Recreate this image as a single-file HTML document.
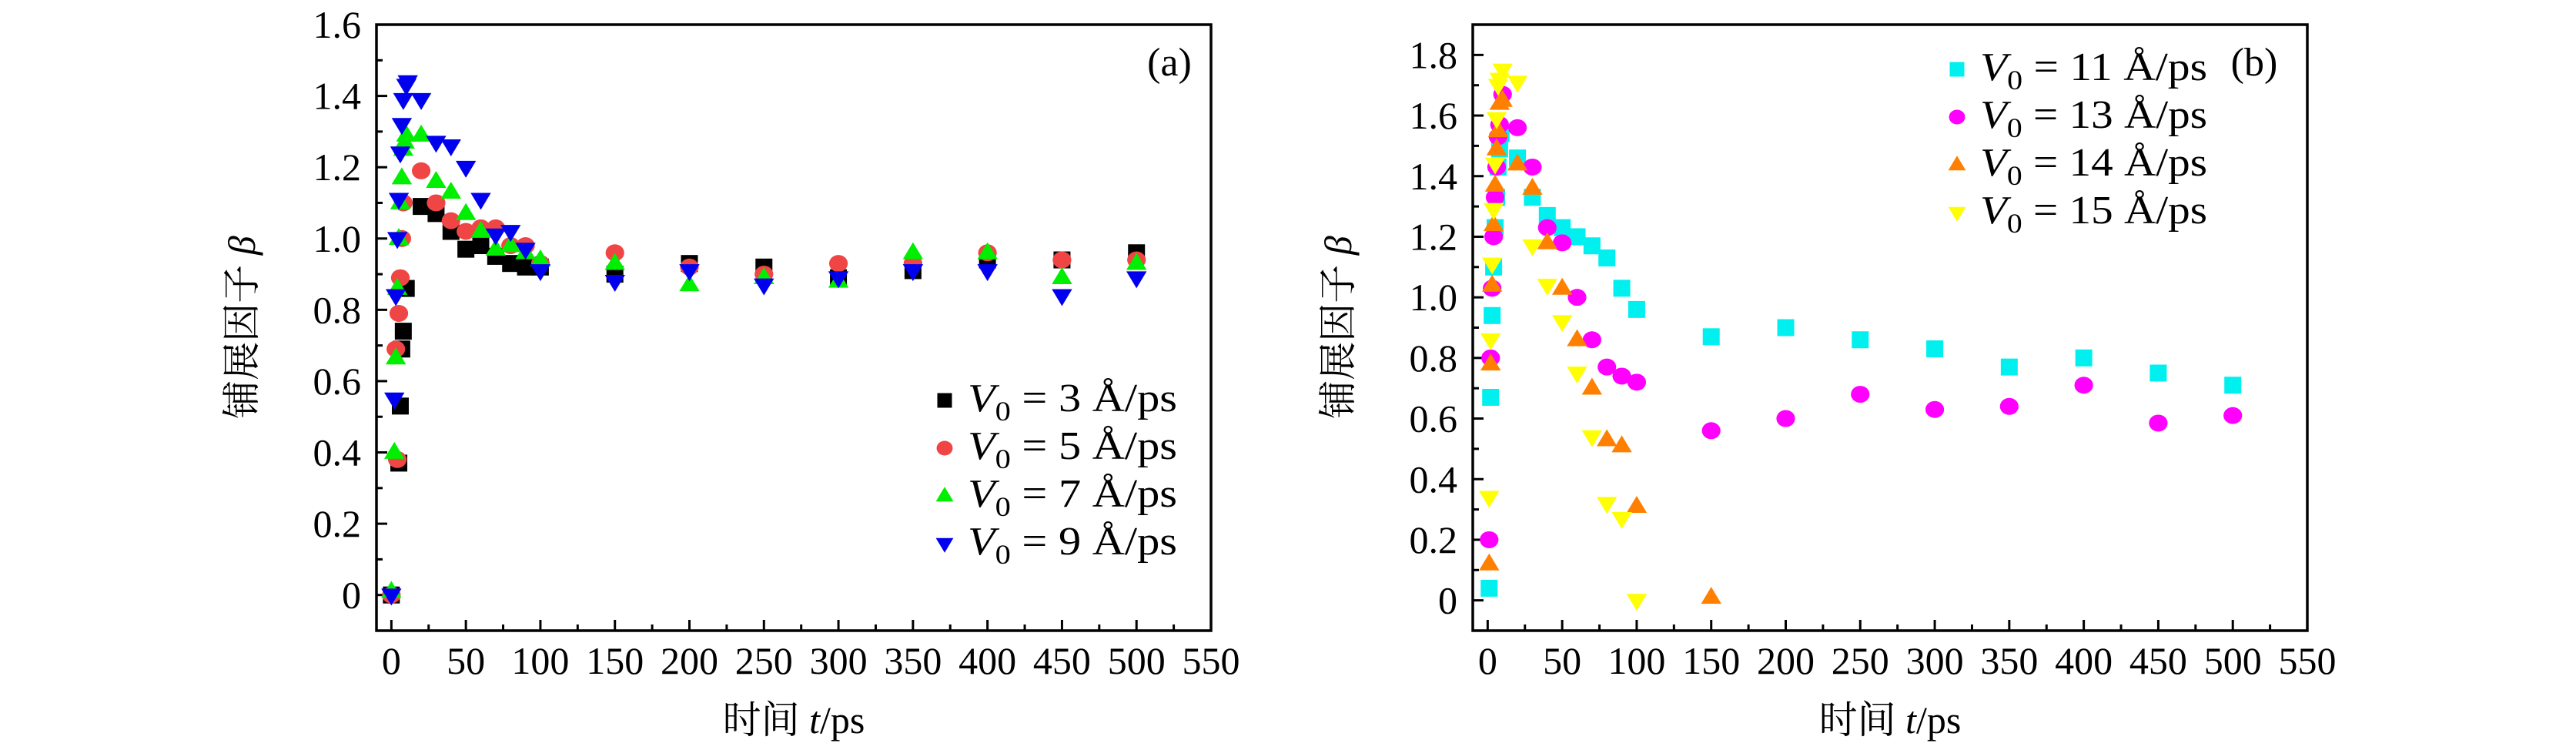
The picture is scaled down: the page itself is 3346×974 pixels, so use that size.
<!DOCTYPE html>
<html><head><meta charset="utf-8"><style>
html,body{margin:0;padding:0;background:#fff;}
svg{display:block;}
text{font-family:"Liberation Serif","Noto Serif CJK SC",serif;fill:#000;}
</style></head><body>
<svg id="chart" width="3346" height="974" viewBox="0 0 3346 974" xmlns="http://www.w3.org/2000/svg"></svg>
<script>
// ---------- data, panel (a) ----------
const tA_v3 = [0,5,6,7,8,10,20,30,40,50,60,70,80,90,100,150,200,250,300,350,400,450,500];
const bA_v3 = [0,0.37,0.53,0.69,0.74,0.86,1.09,1.07,1.02,0.97,0.98,0.95,0.93,0.92,0.92,0.90,0.93,0.92,0.89,0.91,0.94,0.94,0.96];
const tA_v5 = [0,4,3,5,6,7,8,20,30,40,50,60,70,80,90,100,150,200,250,300,350,400,450,500];
const bA_v5 = [0,0.38,0.69,0.79,0.89,1.0,1.1,1.19,1.1,1.05,1.02,1.03,1.03,0.98,0.98,0.93,0.96,0.92,0.90,0.93,0.93,0.96,0.94,0.94];
const tA_v7 = [0,2,3,4,5,6,7,8,9,10,20,30,40,50,60,70,80,90,100,150,200,250,300,350,400,450,500];
const bA_v7 = [0.01,0.40,0.665,0.86,1.0,1.1,1.17,1.25,1.27,1.29,1.29,1.16,1.13,1.07,1.02,0.97,0.98,0.96,0.94,0.93,0.87,0.89,0.88,0.96,0.96,0.89,0.93];
const tA_v9 = [0,2,3,4,5,6,7,8,10,11,20,30,40,50,60,70,80,90,100,150,200,250,300,350,400,450,500];
const bA_v9 = [0,0.55,0.84,1.0,1.11,1.24,1.32,1.39,1.43,1.44,1.39,1.27,1.26,1.2,1.11,1.01,1.02,0.97,0.91,0.88,0.91,0.87,0.89,0.91,0.91,0.84,0.89];
// ---------- data, panel (b) ----------
const tB_v11 = [1,2,3,4,5,6,7,8,9,20,30,40,50,60,70,80,90,100,150,200,250,300,350,400,450,500];
const bB_v11 = [0.04,0.67,0.94,1.10,1.23,1.33,1.43,1.49,1.54,1.46,1.33,1.27,1.23,1.2,1.17,1.13,1.03,0.96,0.87,0.90,0.86,0.83,0.77,0.80,0.75,0.71];
const tB_v13 = [1,2,3,4,5,6,7,8,10,20,30,40,50,60,70,80,90,100,150,200,250,300,350,400,450,500];
const bB_v13 = [0.2,0.80,1.03,1.2,1.33,1.43,1.53,1.57,1.67,1.56,1.43,1.23,1.18,1.0,0.86,0.77,0.74,0.72,0.56,0.60,0.68,0.63,0.64,0.71,0.585,0.61];
const tB_v14 = [1,2,3,4,5,6,7,8,10,20,30,40,50,60,70,80,90,100,150];
const bB_v14 = [0.12,0.78,1.04,1.24,1.37,1.49,1.55,1.64,1.65,1.44,1.36,1.18,1.03,0.86,0.70,0.53,0.51,0.31,0.01];
const tB_v15 = [1,2,3,4,5,6,7,8,10,20,30,40,50,60,70,80,90,100];
const bB_v15 = [0.34,0.86,1.11,1.29,1.44,1.59,1.70,1.72,1.75,1.71,1.17,1.04,0.92,0.75,0.54,0.32,0.27,0];
const yTicksA = ["0","0.2","0.4","0.6","0.8","1.0","1.2","1.4","1.6"];
const yTicksB = ["0","0.2","0.4","0.6","0.8","1.0","1.2","1.4","1.6","1.8"];
const xTicks = ["0","50","100","150","200","250","300","350","400","450","500","550"];

const NS="http://www.w3.org/2000/svg";
const svg=document.getElementById('chart');
function mk(tag,attrs,parent){const e=document.createElementNS(NS,tag);for(const k in attrs)e.setAttribute(k,attrs[k]);(parent||svg).appendChild(e);return e;}

function marker(g,shape,cx,cy,s,color){
  let e;
  if(shape==='square'){e=mk('rect',{x:cx-s/2,y:cy-s/2,width:s,height:s,fill:color},g);}
  else if(shape==='circle'){e=mk('ellipse',{cx:cx,cy:cy,rx:s*0.55,ry:s*0.5,fill:color},g);}
  else if(shape==='up'){const h=s*1.0,w=s*1.2;e=mk('polygon',{points:`${cx},${cy-h*0.62} ${cx-w/2},${cy+h*0.38} ${cx+w/2},${cy+h*0.38}`,fill:color},g);}
  else {const h=s*1.0,w=s*1.2;e=mk('polygon',{points:`${cx},${cy+h*0.62} ${cx-w/2},${cy-h*0.38} ${cx+w/2},${cy-h*0.38}`,fill:color},g);}
  return e;
}

function panel(cfg){
  const L=cfg.left,R=L+1084,T=32,B=819;
  const xs=v=>L+(v+10)/560*(R-L);
  const ys=v=>B-(v-cfg.ymin)/(cfg.ymax-cfg.ymin)*(B-T);
  const g=mk('g',{});
  
  
  const frame=mk('rect',{x:L,y:T,width:R-L,height:B-T,fill:'none',stroke:'#000','stroke-width':3.5},g);
  
  
  // x ticks
  for(let i=0;i<xTicks.length;i++){
    const v=i*50,x=xs(v);
    const t=mk('line',{x1:x,y1:B,x2:x,y2:B-14,stroke:'#000','stroke-width':3},g);
    
    
    if(v+25<=550){const m=mk('line',{x1:xs(v+25),y1:B,x2:xs(v+25),y2:B-8,stroke:'#000','stroke-width':3},g);
      
      }
    const lb=mk('text',{x:x,y:875,'font-size':50,'text-anchor':'middle'},g);
    lb.textContent=xTicks[i];
    
    
  }
  // y ticks
  const yt=cfg.yTicks;
  for(let i=0;i<yt.length;i++){
    const v=i*0.2,y=ys(v);
    const t=mk('line',{x1:L,y1:y,x2:L+14,y2:y,stroke:'#000','stroke-width':3},g);
    
    
    const mv=v+0.1;
    if(mv<cfg.ymax){const m=mk('line',{x1:L,y1:ys(mv),x2:L+8,y2:ys(mv),stroke:'#000','stroke-width':3},g);
      
      }
    const lb=mk('text',{x:L-20,y:y+17,'font-size':50,'text-anchor':'end'},g);
    lb.textContent=yt[i];
    
    
  }
  // series
  cfg.series.forEach(s=>{
    const sg=mk('g',{},g);
    
    
    for(let i=0;i<s.t.length;i++){
      const m=marker(sg,s.shape,xs(s.t[i]),ys(s.b[i]),22,s.color);
      
      
    }
  });
  // legend
  const lg=mk('g',{},g);
  
  
  cfg.series.forEach((s,i)=>{
    const cy=cfg.legY+i*62;
    const e=marker(lg,s.shape,cfg.legX,cy,19,s.color);
    
    
    const tx=mk('text',{x:cfg.legX+30,y:cy+14,'font-size':52},lg);
    
    
    tx.setAttribute('textLength',cfg.legW);
    tx.setAttribute('lengthAdjust','spacingAndGlyphs');
    tx.innerHTML='<tspan font-style="italic">V</tspan><tspan font-size="36" dy="12">0</tspan><tspan dy="-12"> = '+s.v+' Å/ps</tspan>';
  });
  const pl=mk('text',{x:cfg.lblX,y:98,'font-size':52,'text-anchor':'middle'},g);
  pl.textContent=cfg.label;
  
  
  // axis titles
  const xt=mk('text',{x:(L+R)/2,y:952,'font-size':50,'text-anchor':'middle'},g);
  xt.innerHTML='时间 <tspan font-style="italic">t</tspan>/ps';
  
  
  const yx=cfg.left-158;
  const yT=mk('text',{x:yx,y:425,'font-size':50,'text-anchor':'middle',transform:`rotate(-90 ${yx} 425)`},g);
  yT.innerHTML='铺展因子 <tspan font-style="italic">β</tspan>';
  
  
}

panel({name:'panel-a',left:489,ymin:-0.1,ymax:1.6,yTicks:yTicksA,legX:1227,legY:520,legW:272,lblX:1519,label:'(a)',
  series:[
    {name:'series-v0-3',t:tA_v3,b:bA_v3,shape:'square',color:'#000000',v:'3'},
    {name:'series-v0-5',t:tA_v5,b:bA_v5,shape:'circle',color:'#ef4545',v:'5'},
    {name:'series-v0-7',t:tA_v7,b:bA_v7,shape:'up',color:'#00ee00',v:'7'},
    {name:'series-v0-9',t:tA_v9,b:bA_v9,shape:'down',color:'#0000ee',v:'9'}]});
panel({name:'panel-b',left:1913,ymin:-0.1,ymax:1.9,yTicks:yTicksB,legX:2542,legY:90,legW:295,lblX:2928,label:'(b)',
  series:[
    {name:'series-v0-11',t:tB_v11,b:bB_v11,shape:'square',color:'#00f0f0',v:'11'},
    {name:'series-v0-13',t:tB_v13,b:bB_v13,shape:'circle',color:'#ff00ff',v:'13'},
    {name:'series-v0-14',t:tB_v14,b:bB_v14,shape:'up',color:'#ff8000',v:'14'},
    {name:'series-v0-15',t:tB_v15,b:bB_v15,shape:'down',color:'#ffff00',v:'15'}]});
</script>
</body></html>
